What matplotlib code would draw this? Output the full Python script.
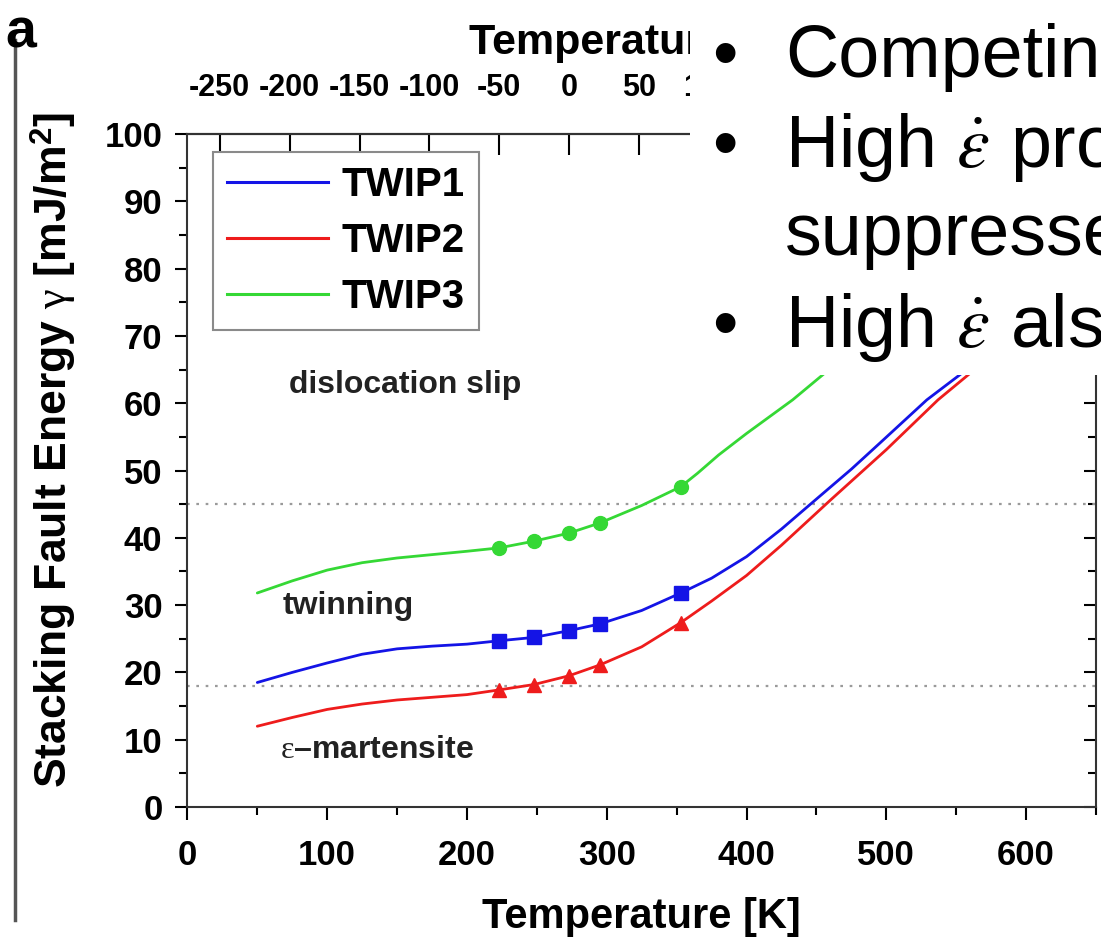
import matplotlib
matplotlib.use("Agg")
import matplotlib.pyplot as plt
from matplotlib.patches import Rectangle
from matplotlib.lines import Line2D
from matplotlib.ticker import MultipleLocator

plt.rcParams["font.family"] = ["Liberation Sans", "DejaVu Sans"]
plt.rcParams["axes.unicode_minus"] = False
plt.rcParams["mathtext.fontset"] = "custom"
plt.rcParams["mathtext.rm"] = "Liberation Serif"
plt.rcParams["mathtext.it"] = "Liberation Serif:italic"
plt.rcParams["mathtext.bf"] = "Liberation Sans:bold"

# ---- data: stacking fault energy vs temperature ----
series_names = ["TWIP1", "TWIP2", "TWIP3"]
series_colors = ["#1414e6", "#ee1c1c", "#35d835"]
series_markers = ["s", "^", "o"]

twip1_T = [50, 75, 100, 125, 150, 175, 200, 223, 248, 273, 295, 325, 353, 375, 400, 425, 448, 475, 495, 529, 555, 590]
twip1_sfe = [18.5, 20.0, 21.4, 22.7, 23.5, 23.9, 24.2, 24.7, 25.2, 26.2, 27.2, 29.2, 31.8, 34.0, 37.2, 41.3, 45.4, 50.2, 54.0, 60.5, 64.6, 70.5]

twip2_T = [50, 75, 100, 125, 150, 175, 200, 223, 248, 273, 295, 325, 353, 375, 400, 425, 460, 500, 537, 562, 597]
twip2_sfe = [12.0, 13.3, 14.5, 15.3, 15.9, 16.3, 16.7, 17.4, 18.2, 19.5, 21.1, 23.8, 27.4, 30.6, 34.4, 38.9, 45.6, 53.1, 60.5, 64.8, 71.0]

twip3_T = [50, 75, 100, 125, 150, 175, 200, 223, 248, 273, 295, 325, 353, 365, 380, 400, 433, 455, 490]
twip3_sfe = [31.8, 33.6, 35.2, 36.3, 37.0, 37.5, 38.0, 38.5, 39.5, 40.7, 42.2, 44.8, 47.6, 49.6, 52.3, 55.5, 60.5, 64.3, 70.5]

# measured test temperatures (marked points)
test_T = [223, 248, 273, 295, 353]
twip1_pts = [24.7, 25.2, 26.2, 27.2, 31.8]
twip2_pts = [17.4, 18.2, 19.5, 21.1, 27.4]
twip3_pts = [38.5, 39.5, 40.7, 42.2, 47.6]

# regime boundaries (mJ/m^2)
boundary_sfe = [45, 18]

regime_labels = ["dislocation slip", "twinning", r"$\mathrm{\varepsilon}$–martensite"]
regime_T = [73, 68, 66]
regime_sfe = [62.7, 29.9, 8.5]

celsius_ticks = [-250, -200, -150, -100, -50, 0, 50, 100]

bullet_lines = [
    ("•", "Competing"),
    ("•", r"High $\dot{\varepsilon}$ prod"),
    ("", "suppressed"),
    ("•", r"High $\dot{\varepsilon}$ also"),
]

W, H = 1101, 943
fig = plt.figure(figsize=(W / 100, H / 100), dpi=100)

ax_l, ax_r, ax_t, ax_b = 187.4, 1096.0, 134.0, 807.0
ax = fig.add_axes([ax_l / W, 1 - ax_b / H, (ax_r - ax_l) / W, (ax_b - ax_t) / H])

for T, y, T_pts, y_pts, c, m in [
    (twip1_T, twip1_sfe, test_T, twip1_pts, series_colors[0], series_markers[0]),
    (twip2_T, twip2_sfe, test_T, twip2_pts, series_colors[1], series_markers[1]),
    (twip3_T, twip3_sfe, test_T, twip3_pts, series_colors[2], series_markers[2]),
]:
    ax.plot(T, y, color=c, lw=2.0, solid_capstyle="round", solid_joinstyle="round", zorder=3)
    ax.plot(T_pts, y_pts, ls="none", marker=m, ms=10, color=c, mec=c, zorder=4)

for b in boundary_sfe:
    ax.axhline(b, color="#9a9a9a", lw=1.6, ls=(0, (1.2, 3.0)), zorder=2)

ax.set_xlim(0, 650)
ax.set_ylim(0, 100)
ax.xaxis.set_major_locator(MultipleLocator(100))
ax.xaxis.set_minor_locator(MultipleLocator(50))
ax.yaxis.set_major_locator(MultipleLocator(10))
ax.yaxis.set_minor_locator(MultipleLocator(5))
ax.tick_params(axis="both", which="both", direction="out", width=1.5, labelsize=25)
ax.tick_params(axis="both", which="major", length=9)
ax.tick_params(axis="both", which="minor", length=6)
ax.tick_params(axis="x", pad=14)
ax.tick_params(axis="y", pad=9)
for lab in ax.get_xticklabels() + ax.get_yticklabels():
    lab.set_fontweight("bold")
for s in ax.spines.values():
    s.set_linewidth(1.5)
    s.set_color("#333333")

ax.set_xlabel("Temperature [K]", fontsize=30, fontweight="bold", labelpad=18)
ax.set_ylabel(r"Stacking Fault Energy $\mathrm{\gamma}$ [mJ/m$^{\mathbf{2}}$]",
              fontsize=32, fontweight="bold", labelpad=19)
ax.yaxis.label.set_y(0.53)

# right-hand ticks point inward
ax.yaxis.set_tick_params(which="both", right=True)
for t in ax.yaxis.get_major_ticks() + ax.yaxis.get_minor_ticks():
    t.tick2line.set_marker(matplotlib.markers.TICKLEFT)

secax = ax.secondary_xaxis("top", functions=(lambda k: k - 273.15, lambda c: c + 273.15))
secax.set_xticks(celsius_ticks)
secax.tick_params(direction="in", length=15, width=1.5, labelsize=22, pad=22)
for lab in secax.get_xticklabels():
    lab.set_fontweight("bold")
secax.set_xlabel("Temperature [°C]", fontsize=31, fontweight="bold", labelpad=14)
secax.spines["top"].set_linewidth(1.5)

for txt, tx, ty in zip(regime_labels, regime_T, regime_sfe):
    ax.text(tx, ty, txt, fontsize=23, fontweight="bold", color="#222222",
            ha="left", va="center", zorder=5)

handles = [Line2D([], [], color=c, lw=2.2) for c in series_colors]
leg = ax.legend(handles, series_names, loc="upper left",
                bbox_to_anchor=((213 - ax_l) / (ax_r - ax_l), (ax_b - 152) / (ax_b - ax_t)),
                borderaxespad=0, prop={"weight": "bold", "size": 29},
                handlelength=2.5, handletextpad=0.35, labelspacing=0.45,
                borderpad=0.35, fancybox=False, framealpha=1, edgecolor="#8a8a8a")
leg.get_frame().set_linewidth(1.5)

# panel letter and left rule
fig.text(5 / W, 1 - 48 / H, "a", fontsize=40, fontweight="bold", ha="left", va="baseline")
fig.add_artist(Line2D([15 / W, 15 / W], [1 - 40 / H, 1 - 920 / H], color="#555555", lw=2.5))

# slide text box overlapping the upper right of the figure
fig.add_artist(Rectangle((690 / W, 1 - 375 / H), (W - 690) / W, 375 / H,
                         transform=fig.transFigure, facecolor="white",
                         edgecolor="none", zorder=10))
baselines = [77, 167, 255, 347]
for (bul, txt), yb in zip(bullet_lines, baselines):
    if bul:
        fig.text(712 / W, 1 - yb / H, bul, fontsize=52, ha="left", va="baseline",
                 color="black", zorder=11)
    fig.text(785 / W, 1 - yb / H, txt, fontsize=53, ha="left", va="baseline",
             color="black", zorder=11, math_fontfamily="stix")

fig.savefig("out.png", dpi=100)
